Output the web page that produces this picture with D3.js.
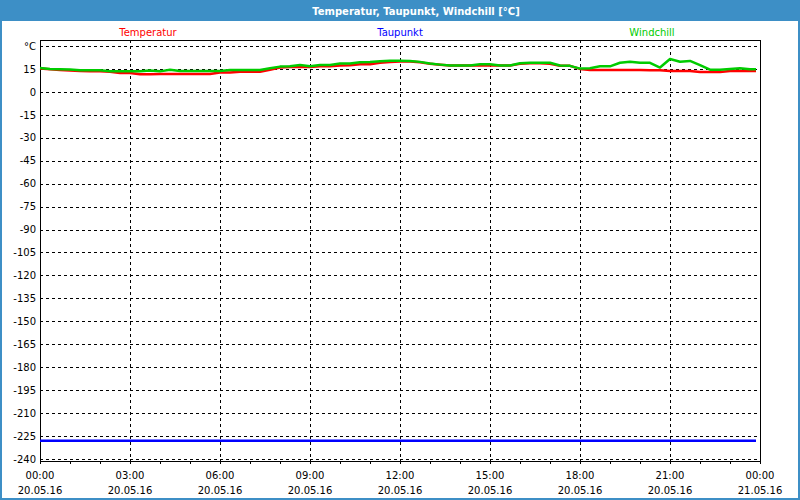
<!DOCTYPE html>
<html><head><meta charset="utf-8">
<script src="https://cdn.jsdelivr.net/npm/d3@7"></script>
<style>
html,body{margin:0;padding:0;background:#fff;}
svg{display:block;}
text{font-family:"DejaVu Sans",Verdana,sans-serif;}
</style></head>
<body>
<svg id="c" width="800" height="500"></svg>
<script>
const title = "Temperatur, Taupunkt, Windchill [°C]";
const seriesNames = ["Temperatur", "Taupunkt", "Windchill"];
const seriesColors = ["#ff0000", "#0000ff", "#00cc00"];
const yTicks = [30, 15, 0, -15, -30, -45, -60, -75, -90, -105, -120, -135, -150, -165, -180, -195, -210, -225, -240];
const xTickHours = [0, 3, 6, 9, 12, 15, 18, 21, 24];
const xTickTimes = ["00:00","03:00","06:00","09:00","12:00","15:00","18:00","21:00","00:00"];
const xTickDates = ["20.05.16","20.05.16","20.05.16","20.05.16","20.05.16","20.05.16","20.05.16","20.05.16","21.05.16"];
const times = ["00:00","00:20","00:40","01:00","01:20","01:40","02:00","02:20","02:40","03:00","03:20","03:40",
"04:00","04:20","04:40","05:00","05:20","05:40","06:00","06:20","06:40","07:00","07:20","07:40",
"08:00","08:20","08:40","09:00","09:20","09:40","10:00","10:20","10:40","11:00","11:20","11:40",
"12:00","12:20","12:40","13:00","13:20","13:40","14:00","14:20","14:40","15:00","15:20","15:40",
"16:00","16:20","16:40","17:00","17:20","17:40","18:00","18:20","18:40","19:00","19:20","19:40",
"20:00","20:20","20:40","21:00","21:20","21:40","22:00","22:20","22:40","23:00","23:20","23:40","23:52"];
const temperatur = [15.3,14.8,14.3,13.9,13.6,13.4,13.4,13.2,12.4,12.4,11.5,11.5,
11.7,11.7,11.7,11.7,11.7,11.7,12.6,12.6,13.2,13.2,13.2,14.5,
15.9,16.3,16.3,16.3,16.8,16.8,17.2,17.4,18.0,18.0,19.0,19.5,
19.8,19.8,19.3,18.3,17.8,17.2,17.2,17.2,17.2,17.4,17.2,17.2,
18.3,18.7,18.7,18.3,17.0,17.0,15.0,14.3,14.3,14.3,14.3,14.3,
14.3,14.1,14.1,13.7,13.7,13.7,13.0,13.0,13.0,13.7,13.7,13.7,13.7];
const taupunkt = [-228.1,-228.1,-228.1,-228.1,-228.1,-228.1,-228.1,-228.1,-228.1,-228.1,-228.1,-228.1,
-228.1,-228.1,-228.1,-228.1,-228.1,-228.1,-228.1,-228.1,-228.1,-228.1,-228.1,-228.1,
-228.1,-228.1,-228.1,-228.1,-228.1,-228.1,-228.1,-228.1,-228.1,-228.1,-228.1,-228.1,
-228.1,-228.1,-228.1,-228.1,-228.1,-228.1,-228.1,-228.1,-228.1,-228.1,-228.1,-228.1,
-228.1,-228.1,-228.1,-228.1,-228.1,-228.1,-228.1,-228.1,-228.1,-228.1,-228.1,-228.1,
-228.1,-228.1,-228.1,-228.1,-228.1,-228.1,-228.1,-228.1,-228.1,-228.1,-228.1,-228.1,-228.1];
const windchill = [15.6,15.0,14.8,14.6,14.1,14.1,14.1,13.4,13.4,13.4,13.4,13.9,
13.4,14.5,13.7,13.7,13.7,13.7,13.7,14.3,14.3,14.3,14.3,15.4,
16.5,16.8,17.6,16.8,17.6,17.6,18.5,18.5,19.4,19.5,20.0,20.3,
20.3,20.2,19.6,18.5,17.8,17.2,17.2,17.2,18.0,18.0,17.2,17.2,
18.7,19.0,19.0,19.0,17.2,17.0,15.2,15.4,16.7,16.7,19.0,19.7,
19.0,19.0,15.9,21.5,19.7,20.2,17.5,14.5,14.5,15.0,15.4,14.8,14.8];

const svg = d3.select("#c");
const W = 800, H = 500;
const L = 40, R = 760, T = 40, B = 461;

// frame
svg.append("rect").attr("x",0).attr("y",0).attr("width",W).attr("height",H).attr("fill","#fff");
svg.append("rect").attr("x",0).attr("y",0).attr("width",W).attr("height",21).attr("fill","#3d8fc6");
svg.append("rect").attr("x",1).attr("y",1).attr("width",W-2).attr("height",H-2)
  .attr("fill","none").attr("stroke","#3d8fc6").attr("stroke-width",2);
svg.append("text").attr("x",416).attr("y",15).attr("text-anchor","middle")
  .attr("fill","#fff").attr("font-weight","bold").attr("font-size",10).text(title);

const x = d3.scaleLinear().domain([0,24]).range([L,R]);
const y = d3.scaleLinear().domain([-241.3,33.9]).range([B,T]);
const hour = s => { const p = s.split(":"); return +p[0] + (+p[1])/60; };

// grid
const g = svg.append("g");
g.selectAll("line.h").data(yTicks).join("line")
  .attr("x1",L).attr("x2",R)
  .attr("y1",d=>Math.round(y(d))+0.5).attr("y2",d=>Math.round(y(d))+0.5)
  .attr("stroke","#000").attr("stroke-dasharray","3,3");
g.selectAll("line.v").data(xTickHours.slice(1,-1)).join("line")
  .attr("x1",d=>Math.round(x(d))+0.5).attr("x2",d=>Math.round(x(d))+0.5)
  .attr("y1",T).attr("y2",B)
  .attr("stroke","#000").attr("stroke-dasharray","3,3");

// axes
const yAxis = d3.axisLeft(y).tickValues(yTicks).tickSize(0).tickPadding(4)
  .tickFormat(d => d === 30 ? "°C" : d);
const ya = svg.append("g").attr("transform",`translate(${L},0)`).call(yAxis);
ya.select(".domain").remove();
ya.selectAll("text").attr("font-size",10).attr("fill","#000")
  .attr("font-family","DejaVu Sans, sans-serif");

const xAxis = d3.axisBottom(x).tickValues(d3.range(0,25)).tickSize(3).tickFormat("");
const xa = svg.append("g").attr("transform",`translate(0,${B})`).call(xAxis);
xa.select(".domain").remove();
xa.selectAll("line").attr("stroke","#000");

const xl = svg.append("g");
xl.selectAll("text.t").data(xTickHours).join("text")
  .attr("x",(d)=>x(d)).attr("y",479).attr("text-anchor","middle")
  .attr("font-size",10).text((d,i)=>xTickTimes[i]);
xl.selectAll("text.d").data(xTickHours).join("text")
  .attr("x",(d)=>x(d)).attr("y",494).attr("text-anchor","middle")
  .attr("font-size",10).text((d,i)=>xTickDates[i]);

// border of plot
svg.append("rect").attr("x",L+0.5).attr("y",T+0.5).attr("width",R-L).attr("height",B-T)
  .attr("fill","none").attr("stroke","#000");

// legend
svg.selectAll("text.leg").data(seriesNames).join("text")
  .attr("x",(d,i)=>400 + (i-1)*252).attr("y",36).attr("text-anchor","middle")
  .attr("font-size",10).attr("fill",(d,i)=>seriesColors[i]).text(d=>d);

// lines
const line = d3.line().x(d=>x(d[0])).y(d=>y(d[1]));
const series = [temperatur, taupunkt, windchill];
series.forEach((vals,i)=>{
  const pts = times.map((t,j)=>[hour(t), vals[j]]);
  svg.append("path").datum(pts).attr("d",line)
    .attr("fill","none").attr("stroke",seriesColors[i]).attr("stroke-width",2.5)
    .attr("stroke-linejoin","round");
});
</script>
</body></html>
